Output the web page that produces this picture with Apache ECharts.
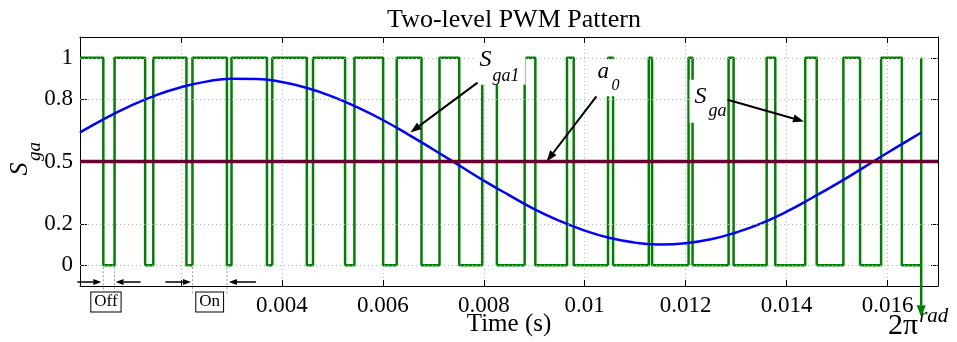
<!DOCTYPE html>
<html>
<head>
<meta charset="utf-8">
<script src="https://cdn.jsdelivr.net/npm/echarts@6/dist/echarts.min.js"></script>
<style>
  html, body { margin: 0; padding: 0; background: #fff; }
  #chart { width: 957px; height: 342px; }
</style>
</head>
<body>
<div id="chart"></div>
<script>
// 一个周期 (60 Hz)
const periodEnd = 0.016667
// S_ga 开关时刻 (s)，从高电平开始，每个时刻翻转一次
const pwmEdges = [
  0.000462, 0.000685, 0.00129, 0.001452, 0.002109, 0.002228, 0.002911, 0.003002,
  0.003704, 0.00381, 0.004494, 0.004617, 0.005252, 0.005437, 0.006006, 0.006276,
  0.006766, 0.007123, 0.007514, 0.00797, 0.00826, 0.00881, 0.009022, 0.009649,
  0.009782, 0.010462, 0.010562, 0.01127, 0.011335, 0.012058, 0.012137, 0.012851,
  0.01295, 0.013605, 0.013776, 0.014369, 0.014597, 0.015125, 0.015456, 0.015873,
  0.016284
]
// S_ga1 基波
const sineTimes = [
  0, 0.0005, 0.001, 0.0015, 0.002, 0.0025, 0.003, 0.0035, 0.004, 0.0045, 0.005,
  0.0055, 0.006, 0.0065, 0.007, 0.0075, 0.008, 0.0085, 0.009, 0.0095, 0.01,
  0.0105, 0.011, 0.0115, 0.012, 0.0125, 0.013, 0.0135, 0.014, 0.0145, 0.015,
  0.0155, 0.016, 0.0165, 0.016667
]
const sineValues = [
  0.64, 0.708, 0.768, 0.819, 0.858, 0.885, 0.899, 0.898, 0.883, 0.854, 0.813,
  0.761, 0.7, 0.631, 0.558, 0.483, 0.408, 0.338, 0.271, 0.214, 0.167,
  0.131, 0.109, 0.1, 0.106, 0.125, 0.158, 0.202, 0.258, 0.324, 0.393,
  0.467, 0.542, 0.615, 0.64
]
// a_0 直流分量
const a0Times = [0, 0.017]
const a0Values = [0.5, 0.5]
const yTicks = [0, 0.2, 0.5, 0.8, 1]
const xLabelTicks = [0.004, 0.006, 0.008, 0.01, 0.012, 0.014, 0.016]

const serif = 'Liberation Serif'
const gridColor = '#b4b4b4'

const pwmData = [[0, 1]]
pwmEdges.forEach((t, i) => pwmData.push([t, i % 2 === 0 ? 0 : 1]))
pwmData.push([periodEnd, 1])

const chart = echarts.init(document.getElementById('chart'))

const boxAxis = {
  min: 0,
  max: 0.017,
  interval: 0.002,
  axisLine: { onZero: false, lineStyle: { color: '#000', width: 1 } },
  axisTick: { inside: true, length: 6, lineStyle: { color: '#000' } }
}

const options = {
  animation: false,
  title: {
    text: 'Two-level PWM Pattern',
    left: 509,
    textAlign: 'center',
    top: 2,
    textStyle: { fontFamily: serif, fontSize: 26, fontWeight: 'normal', color: '#000' }
  },
  grid: { left: 80, right: 19, top: 37, bottom: 56, containLabel: false, outerBoundsMode: 'none' },
  xAxis: [
    {
      ...boxAxis,
      type: 'value',
      position: 'bottom',
      name: 'Time (s)',
      nameLocation: 'middle',
      nameGap: 26,
      nameMoveOverlap: false,
      nameTextStyle: { fontFamily: serif, fontSize: 25, color: '#000' },
      axisLabel: {
        margin: 8,
        fontFamily: serif,
        fontSize: 23,
        color: '#000',
        formatter: (v) => (xLabelTicks.some(x => Math.abs(x - v) < 1e-9) ? String(v) : '')
      },
      splitLine: { show: true, lineStyle: { color: gridColor, type: [1, 3], width: 1 } }
    },
    {
      ...boxAxis,
      type: 'value',
      position: 'top',
      axisLabel: { show: false },
      splitLine: { show: false }
    }
  ],
  yAxis: [
    {
      type: 'value',
      min: -0.1,
      max: 1.1,
      interval: 0.1,
      position: 'left',
      axisLine: { show: true, onZero: false, lineStyle: { color: '#000' } },
      axisTick: { show: true, inside: true, length: 7, customValues: yTicks, lineStyle: { color: '#000' } },
      axisLabel: {
        customValues: yTicks,
        margin: 7,
        fontFamily: serif,
        fontSize: 23,
        color: '#000',
        formatter: (v) => String(v)
      },
      splitLine: { show: false }
    },
    {
      type: 'value',
      min: -0.1,
      max: 1.1,
      interval: 0.1,
      position: 'right',
      axisLine: { show: true, onZero: false, lineStyle: { color: '#000' } },
      axisTick: { show: true, inside: true, length: 7, customValues: yTicks, lineStyle: { color: '#000' } },
      axisLabel: { show: false },
      splitLine: { show: false }
    }
  ],
  series: [
    {
      // y 方向网格线
      type: 'line',
      data: [],
      silent: true,
      markLine: {
        silent: true,
        symbol: 'none',
        label: { show: false },
        lineStyle: { color: gridColor, type: [1, 3], width: 1 },
        data: yTicks.map(v => ({ yAxis: v }))
      }
    },
    {
      name: 'S_ga',
      type: 'line',
      step: 'end',
      data: pwmData,
      showSymbol: false,
      lineStyle: { color: '#008000', width: 2.5 },
      z: 3
    },
    {
      name: 'S_ga1',
      type: 'line',
      smooth: true,
      data: sineTimes.map((t, i) => [t, sineValues[i]]),
      showSymbol: false,
      lineStyle: { color: '#0000ff', width: 2.5 },
      z: 4
    },
    {
      name: 'a_0',
      type: 'line',
      data: a0Times.map((t, i) => [t, a0Values[i]]),
      showSymbol: false,
      lineStyle: { color: '#660033', width: 3.4 },
      z: 5
    }
  ]
}
chart.setOption(options)

// 标注 (箭头、文字)
const px = (t, v) => chart.convertToPixel({ xAxisIndex: 0, yAxisIndex: 0 }, [t, v])

function arrow(p1, p2, color, width, headLen, headW) {
  const dx = p2[0] - p1[0]
  const dy = p2[1] - p1[1]
  const len = Math.hypot(dx, dy)
  const ux = dx / len
  const uy = dy / len
  const bx = p2[0] - ux * headLen
  const by = p2[1] - uy * headLen
  return [
    { type: 'line', z: 120, shape: { x1: p1[0], y1: p1[1], x2: bx, y2: by }, style: { stroke: color, lineWidth: width } },
    {
      type: 'polygon', z: 120,
      shape: { points: [[p2[0], p2[1]], [bx - uy * headW / 2, by + ux * headW / 2], [bx + uy * headW / 2, by - ux * headW / 2]] },
      style: { fill: color }
    }
  ]
}

function txt(x, y, text, size, italic, align) {
  return {
    type: 'text', z: 115, x, y,
    style: {
      text, fill: '#000', align: align || 'left', verticalAlign: 'middle',
      font: (italic ? 'italic ' : '') + size + 'px "' + serif + '"'
    }
  }
}

function whiteBox(x, y, w, h) {
  return { type: 'rect', z: 110, shape: { x, y, width: w, height: h }, style: { fill: '#fff' } }
}

const notes = [
  { main: 'S', sub: 'ga1', tail: [0.007877, 0.88], head: [0.006548, 0.64], box: [-4, -37, 52, 39], m: [2, -23, 24], s: [15, -6, 18] },
  { main: 'a', sub: '0', tail: [0.010232, 0.814], head: [0.009246, 0.5], box: [-3, -37, 28, 37], m: [1, -24, 23], s: [15, -11, 16] },
  { main: 'S', sub: 'ga', tail: [0.01283, 0.798], head: [0.014345, 0.693], box: [-38, -20, 37, 43], m: [-33, -3, 24], s: [-19, 12, 18] }
]

const graphics = []
notes.forEach(n => {
  const p1 = px(n.tail[0], n.tail[1])
  const p2 = px(n.head[0], n.head[1])
  graphics.push(whiteBox(p1[0] + n.box[0], p1[1] + n.box[1], n.box[2], n.box[3]))
  graphics.push(txt(p1[0] + n.m[0], p1[1] + n.m[1], n.main, n.m[2], true))
  graphics.push(txt(p1[0] + n.s[0], p1[1] + n.s[1], n.sub, n.s[2], true))
  graphics.push(...arrow(p1, p2, '#000', 2, 11, 8))
})

// Off / On 区间标注
const zeroY = px(0, 0)[1]
const axisY = px(0, -0.1)[1]
const arrowY = axisY - 4
const offEdges = [pwmEdges[0], pwmEdges[1]]
const onEdges = [pwmEdges[5], pwmEdges[6]]
;[...offEdges, ...onEdges].forEach(t => {
  const x = px(t, 0)[0]
  graphics.push({
    type: 'line', z: 100,
    shape: { x1: x, y1: zeroY + 2, x2: x, y2: axisY + 8 },
    style: { stroke: '#999', lineWidth: 1, lineDash: [2, 2] }
  })
})
const xo0 = px(offEdges[0], 0)[0]
const xo1 = px(offEdges[1], 0)[0]
const xn0 = px(onEdges[0], 0)[0]
const xn1 = px(onEdges[1], 0)[0]
graphics.push(...arrow([xo0 - 26, arrowY], [xo0 - 2, arrowY], '#000', 1.5, 8, 6))
graphics.push(...arrow([xo1 + 26, arrowY], [xo1 + 1, arrowY], '#000', 1.5, 8, 6))
graphics.push(...arrow([xn0 - 27, arrowY], [xn0 - 1.5, arrowY], '#000', 1.5, 8, 6))
graphics.push(...arrow([xn1 + 29, arrowY], [xn1 + 2, arrowY], '#000', 1.5, 8, 6))

function boxed(x, y, text) {
  return {
    type: 'text', z: 115, x, y,
    style: {
      text, fill: '#000', align: 'center', verticalAlign: 'middle',
      font: '17px "' + serif + '"',
      backgroundColor: '#fff', borderColor: '#000', borderWidth: 1, padding: [2, 3, 0, 3]
    }
  }
}
graphics.push(boxed((xo0 + xo1) / 2 - 3, axisY + 16, 'Off'))
graphics.push(boxed((xn0 + xn1) / 2, axisY + 16, 'On'))

// 2π 箭头
const pEnd = px(periodEnd, 0)
graphics.push(...arrow([pEnd[0], pEnd[1]], [pEnd[0], pEnd[1] + 52], '#008000', 2.5, 12, 9))
graphics.push(txt(pEnd[0] - 3, pEnd[1] + 61, '2π', 30, false, 'right'))
graphics.push(txt(pEnd[0] - 2, pEnd[1] + 51, 'rad', 21, true))

// 纵轴名 S_ga（旋转）
graphics.push({
  type: 'group', x: 20, y: 169, rotation: Math.PI / 2, z: 115,
  children: [
    { type: 'text', x: 0, y: 0, style: { text: 'S', fill: '#000', align: 'center', verticalAlign: 'middle', font: 'italic 26px "' + serif + '"' } },
    { type: 'text', x: 8, y: 15, style: { text: 'ga', fill: '#000', align: 'left', verticalAlign: 'middle', font: 'italic 19px "' + serif + '"' } }
  ]
})

chart.setOption({ graphic: graphics })
</script>
</body>
</html>
